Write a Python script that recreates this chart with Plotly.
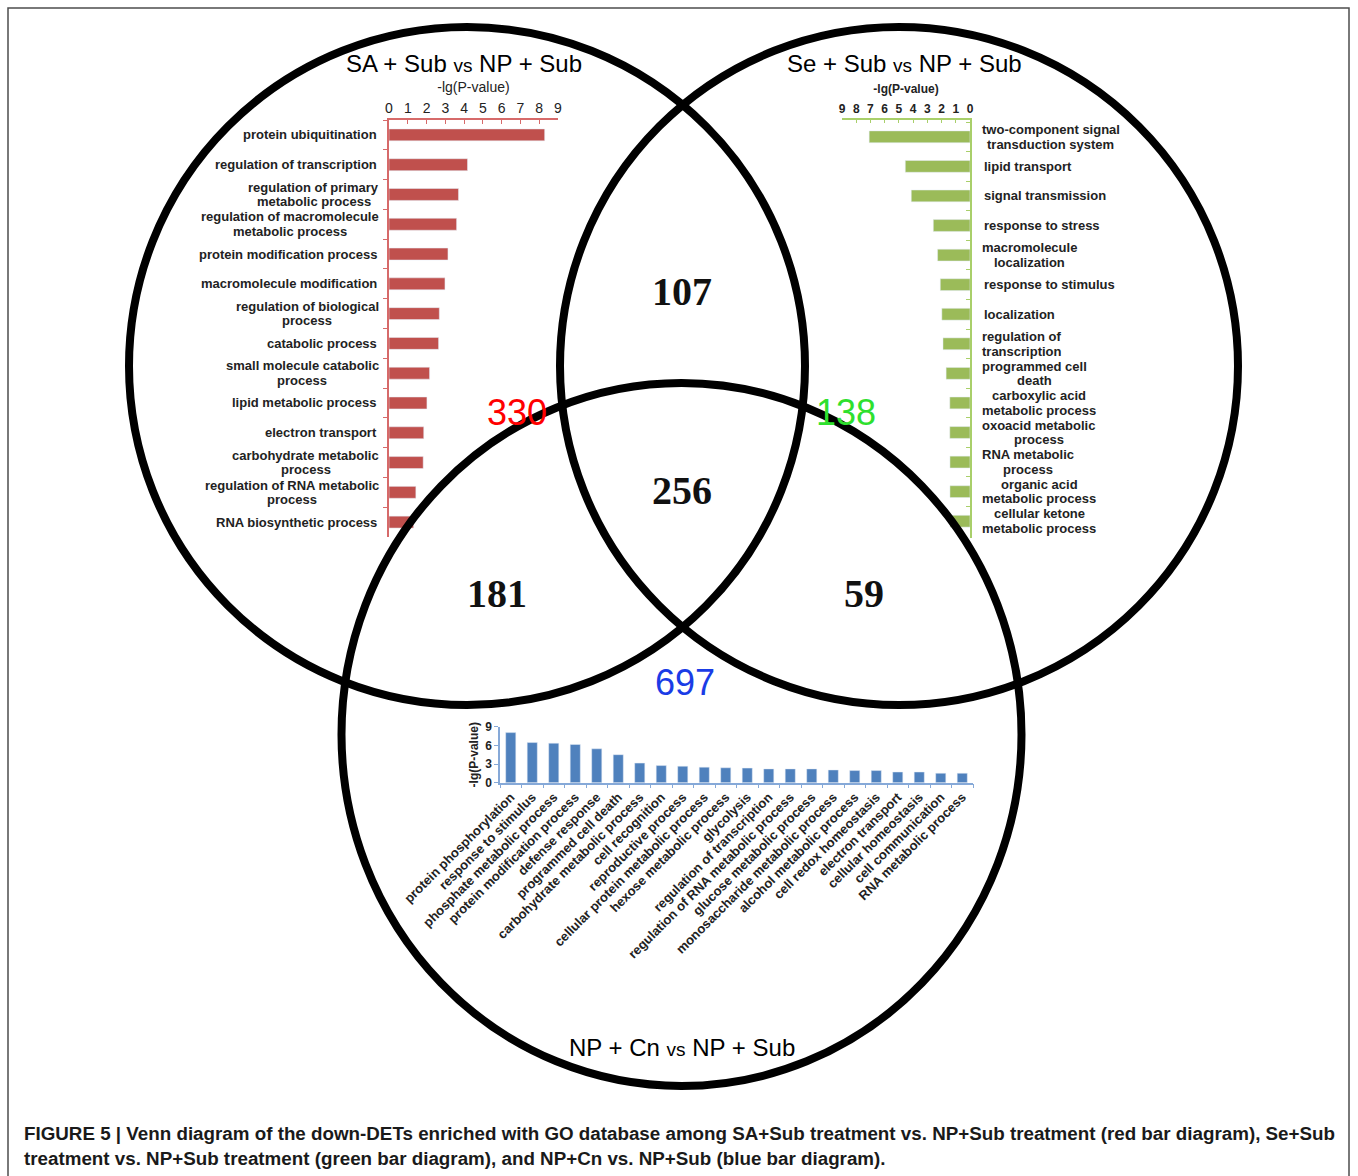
import plotly.graph_objects as go

# ---------------------------------------------------------------
# Data
# ---------------------------------------------------------------
# GO terms, SA + Sub vs NP + Sub (red panel)
sa_terms = [
    "protein ubiquitination",
    "regulation of transcription",
    "regulation of primary<br>metabolic process",
    "regulation of macromolecule<br>metabolic process",
    "protein modification process",
    "macromolecule modification",
    "regulation of biological<br>process",
    "catabolic process",
    "small molecule catabolic<br>process",
    "lipid metabolic process",
    "electron transport",
    "carbohydrate metabolic<br>process",
    "regulation of RNA metabolic<br>process",
    "RNA biosynthetic process",
]
sa_values = [8.29, 4.18, 3.70, 3.60, 3.14, 2.98, 2.68, 2.64, 2.16, 2.02, 1.85, 1.82, 1.43, 1.31]

# GO terms, Se + Sub vs NP + Sub (green panel)
se_terms = [
    "two-component signal<br>transduction system",
    "lipid transport",
    "signal transmission",
    "response to stress",
    "macromolecule<br>localization",
    "response to stimulus",
    "localization",
    "regulation of<br>transcription",
    "programmed cell<br>death",
    "carboxylic acid<br>metabolic process",
    "oxoacid metabolic<br>process",
    "RNA metabolic<br>process",
    "organic acid<br>metabolic process",
    "cellular ketone<br>metabolic process",
]
se_values = [7.09, 4.55, 4.13, 2.58, 2.28, 2.09, 1.98, 1.90, 1.68, 1.42, 1.42, 1.41, 1.41, 1.40]

# GO terms, NP + Cn vs NP + Sub (blue panel)
cn_terms = [
    "protein phosphorylation",
    "response to stimulus",
    "phosphate metabolic process",
    "protein modification process",
    "defense response",
    "programmed cell death",
    "carbohydrate metabolic process",
    "cell recognition",
    "reproductive process",
    "cellular protein metabolic process",
    "hexose metabolic process",
    "glycolysis",
    "regulation of transcription",
    "regulation of RNA metabolic process",
    "glucose metabolic process",
    "monosaccharide metabolic process",
    "alcohol metabolic process",
    "cell redox homeostasis",
    "electron transport",
    "cellular homeostasis",
    "cell communication",
    "RNA metabolic process",
]
cn_values = [8.05, 6.45, 6.35, 6.15, 5.45, 4.50, 3.15, 2.75, 2.65, 2.50, 2.40, 2.35,
             2.22, 2.22, 2.22, 2.05, 1.95, 1.95, 1.72, 1.72, 1.52, 1.52]

pval_ticks = [0, 1, 2, 3, 4, 5, 6, 7, 8, 9]
cn_ticks = [0, 3, 6, 9]

# Venn diagram region counts
venn_regions = ["SA only", "Se only", "Cn only", "SA & Se", "SA & Cn", "Se & Cn", "all three"]
venn_counts = [330, 138, 697, 107, 181, 59, 256]

set_titles = ["SA + Sub", "Se + Sub", "NP + Cn"]
reference_title = "NP + Sub"

caption_lines = [
    "FIGURE 5 | Venn diagram of the down-DETs enriched with GO database among SA+Sub treatment vs. "
    "NP+Sub treatment (red bar diagram), Se+Sub",
    "treatment vs. NP+Sub treatment (green bar diagram), and NP+Cn vs. NP+Sub (blue bar diagram).",
]

# ---------------------------------------------------------------
# Page geometry (pixels, origin top-left)
# ---------------------------------------------------------------
W, H = 1358, 1176


def px(x):
    return x / W


def py(y):
    return 1 - y / H


SANS = "Liberation Sans, Arial, sans-serif"
SERIF = "Liberation Serif, Times New Roman, serif"
TXT = "#222222"

RED, RED_AX = "#c0504d", "#d66a6a"
GREEN, GREEN_AX = "#9bbb59", "#a9cf6a"
BLUE, BLUE_AX = "#4f81bd", "#86a9d8"

# approximate advance widths of the bold sans face (per 1000 em), used to
# centre two-line category labels on their longest line
_BOLD_W = {" ": 278, "-": 333, "a": 556, "b": 611, "c": 556, "d": 611, "e": 556, "f": 333,
           "g": 611, "h": 611, "i": 278, "j": 278, "k": 556, "l": 278, "m": 889, "n": 611,
           "o": 611, "p": 611, "q": 611, "r": 389, "s": 556, "t": 333, "u": 611, "v": 556,
           "w": 778, "x": 556, "y": 556, "z": 500, "A": 722, "N": 722, "R": 722}


def text_width(s, size):
    return sum(_BOLD_W.get(ch, 600) for ch in s) / 1000 * size


fig = go.Figure()

fig.add_trace(go.Bar(x=sa_values, y=sa_terms, orientation="h", marker_color=RED,
                     xaxis="x", yaxis="y", hoverinfo="x+y"))
fig.add_trace(go.Bar(x=se_values, y=se_terms, orientation="h", marker_color=GREEN,
                     xaxis="x2", yaxis="y2", hoverinfo="x+y"))
fig.add_trace(go.Bar(x=cn_terms, y=cn_values, marker_color=BLUE,
                     xaxis="x3", yaxis="y3", hoverinfo="x+y", width=0.47))

hbar_top, hbar_bottom = 120, 537

layout = dict(
    width=W, height=H,
    autosize=False,
    margin=dict(l=0, r=0, t=0, b=0, pad=0, autoexpand=False),
    paper_bgcolor="white", plot_bgcolor="rgba(0,0,0,0)",
    showlegend=False,
    bargap=0.6,
    font=dict(family=SANS, color=TXT),
    # red panel
    xaxis=dict(domain=[px(389), px(558)], range=[0, 9], anchor="y", side="top",
               tickvals=pval_ticks, ticks="inside", ticklen=4, tickcolor=RED_AX,
               showline=True, linecolor=RED_AX, linewidth=1.5, showgrid=False, zeroline=False,
               tickfont=dict(size=14, color=TXT), automargin=False,
               title=dict(text="-lg(P-value)", font=dict(size=14, color=TXT), standoff=4)),
    yaxis=dict(domain=[py(hbar_bottom), py(hbar_top)], anchor="x", type="category",
               autorange="reversed", showticklabels=False, ticks="outside", tickson="boundaries",
               ticklen=4, tickcolor=RED_AX, showline=True, linecolor=RED_AX, linewidth=1.5,
               showgrid=False, zeroline=False, automargin=False),
    # green panel
    xaxis2=dict(domain=[px(842), px(970)], range=[9, 0], anchor="y2", side="top",
                tickvals=pval_ticks, ticks="inside", ticklen=3, tickcolor=GREEN_AX,
                showline=True, linecolor=GREEN_AX, linewidth=1.5, showgrid=False, zeroline=False,
                tickfont=dict(size=12, color=TXT, weight="bold"), automargin=False,
                title=dict(text="-lg(P-value)", font=dict(size=12, color=TXT, weight="bold"), standoff=6)),
    yaxis2=dict(domain=[py(hbar_bottom + 1), py(hbar_top)], anchor="x2", side="right",
                type="category", autorange="reversed", showticklabels=False, ticks="inside",
                tickson="boundaries", ticklen=4, tickcolor=GREEN_AX, showline=True,
                linecolor=GREEN_AX, linewidth=1.5, showgrid=False, zeroline=False, automargin=False),
    # blue panel
    xaxis3=dict(domain=[px(500), px(973)], anchor="y3", type="category", tickangle=-45,
                ticks="outside", tickson="boundaries", ticklen=4, tickcolor=BLUE_AX,
                showline=True, linecolor=BLUE_AX, linewidth=1.5, showgrid=False, automargin=False,
                tickfont=dict(size=13, color=TXT, weight="bold")),
    yaxis3=dict(domain=[py(782.7), py(726.7)], anchor="x3", range=[0, 9], tickvals=cn_ticks,
                ticks="outside", ticklen=4, tickcolor=BLUE_AX, showline=True, linecolor=BLUE_AX,
                linewidth=1.5, showgrid=False, zeroline=False, automargin=False,
                tickfont=dict(size=12, color=TXT, weight="bold"),
                title=dict(text="-lg(P-value)", font=dict(size=12, color=TXT, weight="bold"), standoff=4)),
)
fig.update_layout(**layout)

# ---------------------------------------------------------------
# Venn outline: three ellipses plus the panel frame
# ---------------------------------------------------------------
venn_shapes = [
    (467, 366, 338, 339),    # SA + Sub
    (899, 366, 339, 339),    # Se + Sub
    (681.5, 734.5, 340, 351.5),  # NP + Cn
]
shapes = [dict(type="rect", xref="paper", yref="paper", x0=px(8), x1=px(1349),
               y0=py(1200), y1=py(8), line=dict(color="#4d4d4d", width=1.5), layer="below")]
for cx, cy, rx, ry in venn_shapes:
    shapes.append(dict(type="circle", xref="paper", yref="paper",
                       x0=px(cx - rx), x1=px(cx + rx), y0=py(cy + ry), y1=py(cy - ry),
                       line=dict(color="black", width=8), layer="above"))
fig.update_layout(shapes=shapes)

# ---------------------------------------------------------------
# Text
# ---------------------------------------------------------------
ann = []
LABEL_SIZE = 13
LINE_GAP = 7.3
label_font = dict(family=SANS, size=LABEL_SIZE, color=TXT, weight="bold")


def category_labels(terms, xref, yref, side, offset):
    """Label each bar; two-line labels are centred on their longest line."""
    out = []
    for term in terms:
        lines = term.split("<br>")
        if len(lines) == 1:
            out.append(dict(x=0 if side == "left" else 1, xref=xref, y=term, yref=yref,
                            xanchor="right" if side == "left" else "left", yanchor="middle",
                            xshift=-offset if side == "left" else offset,
                            text=term, showarrow=False, font=label_font))
            continue
        block = max(text_width(s, LABEL_SIZE) for s in lines)
        shift = -(offset + block / 2) if side == "left" else offset + block / 2
        for k, line in enumerate(lines):
            out.append(dict(x=0 if side == "left" else 1, xref=xref, y=term, yref=yref,
                            xanchor="center", yanchor="middle", xshift=shift,
                            yshift=LINE_GAP if k == 0 else -LINE_GAP,
                            text=line, showarrow=False, font=label_font))
    return out


ann += category_labels(sa_terms, "x domain", "y", "left", 10)
ann += category_labels(se_terms, "x2 domain", "y2", "right", 12)

# set titles
vs = "<span style='font-size:19px'>vs</span>"
title_pos = [(463.5, 64), (904.5, 64), (682, 1047)]
for name, (tx, ty) in zip(set_titles, title_pos):
    ann.append(dict(x=px(tx), y=py(ty), xref="paper", yref="paper", showarrow=False,
                    xanchor="center", yanchor="middle",
                    text=f"{name} {vs} {reference_title}",
                    font=dict(family=SANS, size=24, color="black")))

# region counts
count_style = {
    "SA only": (517, 413, SANS, "#ff0000", False),
    "Se only": (846, 412, SANS, "#2ee02e", False),
    "Cn only": (685, 683, SANS, "#1a3ce6", False),
    "SA & Se": (682, 292, SERIF, "#111111", True),
    "SA & Cn": (497, 593, SERIF, "#111111", True),
    "Se & Cn": (864, 593, SERIF, "#111111", True),
    "all three": (682, 490, SERIF, "#111111", True),
}
for region, n in zip(venn_regions, venn_counts):
    cx, cy, fam, col, bold = count_style[region]
    ann.append(dict(x=px(cx), y=py(cy), xref="paper", yref="paper", showarrow=False,
                    xanchor="center", yanchor="middle", text=str(n),
                    font=dict(family=fam, size=40 if bold else 36, color=col,
                              weight="bold" if bold else "normal")))

# figure caption
for line, ly in zip(caption_lines, [1133, 1158]):
    ann.append(dict(x=px(22), y=py(ly), xref="paper", yref="paper", xanchor="left",
                    yanchor="middle", showarrow=False, text=line,
                    font=dict(family=SANS, size=18.8, color="#1a1a1a", weight="bold")))

fig.update_layout(annotations=ann)

fig.write_html("out.html")
